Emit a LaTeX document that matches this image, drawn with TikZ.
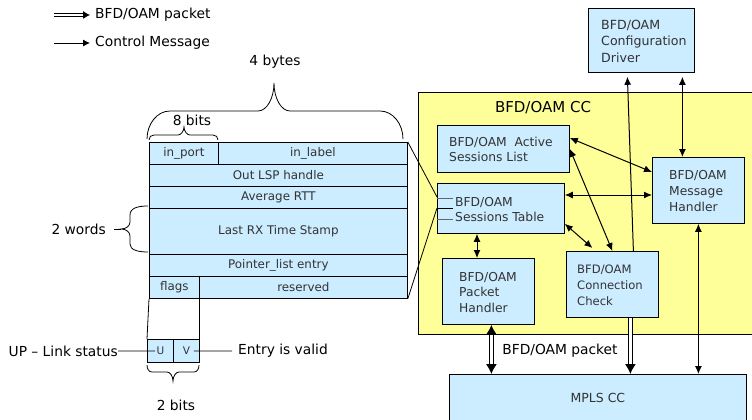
\documentclass[tikz,border=0pt]{standalone}
\usepackage{fontspec}
\setmainfont{DejaVu Sans}
\usetikzlibrary{arrows.meta,calc}
\definecolor{boxblue}{HTML}{CCECFF}
\definecolor{ccyellow}{HTML}{FFFF99}
\begin{document}
\begin{tikzpicture}[x=1pt,y=-1pt,
  lbl/.style={font=\fontsize{13.8}{16}\selectfont, inner sep=0pt},
  cell/.style={draw=black, line width=0.8pt, fill=boxblue, anchor=north west, inner sep=0pt, font=\fontsize{11.9}{14}\selectfont, text=black!80},
  blk/.style={draw=black, line width=0.8pt, fill=boxblue, anchor=north west, inner sep=0pt},
  btxt/.style={anchor=west, inner sep=0pt, align=left, font=\fontsize{12.3}{16}\selectfont, text=black!80},
  brc/.style={line width=0.8pt},
  ctl1/.style={line width=1pt, -{Latex[length=8pt,width=7pt]}},
  ctl2/.style={line width=1pt, {Latex[length=8pt,width=7pt]}-{Latex[length=8pt,width=7pt]}},
  legdbl/.style={double=white, double distance=1.6pt, line width=0.9pt, -{Latex[length=7pt,width=8pt]}},
  dbl1/.style={double=white, double distance=3.2pt, line width=1.2pt, -{Latex[length=10pt,width=11pt]}},
  dbl2/.style={double=white, double distance=3.2pt, line width=1.2pt, {Latex[length=10pt,width=11pt]}-{Latex[length=10pt,width=11pt]}}
]
\useasboundingbox (0,0) rectangle (752,420);
\clip (0,0) rectangle (752,420);

% legend
\node[lbl, anchor=west] (lg1) at (95,15) {BFD/OAM packet};
\node[lbl, anchor=west] (lg2) at (95,43) {Control Message};
\coordinate (lgs1) at (54,15);
\coordinate (lgs2) at (54,43);
\draw[legdbl] (lgs1) -- ([xshift=-5pt]lg1.west);
\draw[ctl1, line width=0.9pt, -{Latex[length=7pt,width=7pt]}] (lgs2) -- ([xshift=-5pt]lg2.west);

% table
\node[cell, minimum width=69pt, minimum height=22pt] (inport) at (149,142) {in\_port};
\node[cell, minimum width=189pt, minimum height=22pt] (inlabel) at (218,142) {in\_label};
\node[cell, minimum width=258pt, minimum height=22pt] (outlsp) at (149,164) {Out LSP handle};
\node[cell, minimum width=258pt, minimum height=22pt] (avg) at (149,186) {Average RTT};
\node[cell, minimum width=258pt, minimum height=46pt] (lastrx) at (149,208) {Last RX Time Stamp};
\node[cell, minimum width=258pt, minimum height=22pt] (ptr) at (149,254) {Pointer\_list entry};
\node[cell, minimum width=50pt, minimum height=22pt] (flags) at (149,276) {flags};
\node[cell, minimum width=208pt, minimum height=22pt] (resv) at (199,276) {reserved};

% braces
\node[lbl] (fourbytes) at (275,62) {4 bytes};
\draw[brc] (147,139) .. controls (147,124) and (157,111) .. (170,111) -- (258,111)
  .. controls (267,111) and (274,98) .. (274,83)
  .. controls (274,98) and (281,111) .. (290,111) -- (380,111)
  .. controls (393,111) and (403,124) .. (403,139);
\node[lbl] (eightbits) at (192,120) {8 bits};
\draw[brc] (149,140) .. controls (149,137) and (151,135) .. (154,135) -- (178,135)
  .. controls (181,135) and (184,131) .. (184,127)
  .. controls (184,131) and (187,135) .. (190,135) -- (213,135)
  .. controls (216,135) and (218,137) .. (218,140);
\node[lbl, anchor=east] (twowords) at (106,229) {2 words};
\coordinate (twtip) at (121,229);
\draw[brc] (twowords.east) ++(8pt,0) -- (twtip);
\draw[brc] (148,206) .. controls (138,206) and (130,208) .. (130,215) -- (130,222)
  .. controls (130,226) and (126,229) .. (twtip)
  .. controls (126,229) and (130,232) .. (130,236) -- (130,244)
  .. controls (130,250) and (138,252) .. (148,252);

% flag bits
\node[cell, minimum width=26pt, minimum height=23pt, font=\fontsize{10.5}{12}\selectfont] (ubit) at (147,339) {U};
\node[cell, minimum width=26pt, minimum height=23pt, font=\fontsize{10.5}{12}\selectfont] (vbit) at (173,339) {V};
\draw[line width=0.8pt] (flags.south west) -- (ubit.north west);
\draw[line width=0.8pt] (flags.south east) -- (vbit.north east);
\draw[brc] (147,365) .. controls (147,369) and (149,372) .. (152,372) -- (167,372)
  .. controls (170,372) and (173,376) .. (173,381)
  .. controls (173,376) and (176,372) .. (179,372) -- (194,372)
  .. controls (197,372) and (199,369) .. (199,365);
\node[lbl] (twobits) at (176,405) {2 bits};
\node[lbl, anchor=east] (upl) at (118,351) {UP – Link status};
\node[lbl, anchor=west] (ev) at (238,351) {Entry is valid};
\draw[line width=0.8pt] (upl.east) -- ([xshift=8pt]ubit.west);
\draw[line width=0.8pt] ([xshift=-6pt]vbit.east) -- ([xshift=-6pt]ev.west);

% right part
\node[draw=black, line width=0.8pt, fill=ccyellow, anchor=north west, minimum width=342pt, minimum height=242pt, inner sep=0pt] (ccbox) at (418,92) {};
\node[lbl, font=\fontsize{15}{17}\selectfont] (cctitle) at (543,108) {BFD/OAM CC};

\node[blk, minimum width=106pt, minimum height=64pt] (cfg) at (588,8) {};
\node[btxt, font=\fontsize{12.6}{16.5}\selectfont] (cfgt) at ([xshift=13pt,yshift=-1pt]cfg.west) {BFD/OAM\\Configuration\\Driver};
\node[blk, minimum width=132pt, minimum height=47pt] (asl) at (437,125) {};
\node[btxt, font=\fontsize{12.3}{15}\selectfont] (aslt) at ([xshift=12pt,yshift=-1pt]asl.west) {BFD/OAM\ \ Active\\Sessions List};
\node[blk, minimum width=92pt, minimum height=66pt] (mh) at (652,157) {};
\node[btxt] (mht) at ([xshift=17pt,yshift=-1pt]mh.west) {BFD/OAM\\Message\\Handler};
\node[blk, minimum width=127pt, minimum height=50pt] (st) at (437,183) {};
\node[btxt, font=\fontsize{12.3}{15}\selectfont] (stt) at ([xshift=18pt,yshift=-1pt]st.west) {BFD/OAM\\Sessions Table};
\node[blk, minimum width=92pt, minimum height=66pt] (ph) at (442,258) {};
\node[btxt, font=\fontsize{12.3}{15.5}\selectfont] (pht) at ([xshift=17pt,yshift=-1pt]ph.west) {BFD/OAM\\Packet\\Handler};
\node[blk, minimum width=92pt, minimum height=66pt] (ccn) at (566,251) {};
\node[btxt, font=\fontsize{11.6}{16}\selectfont] (ccnt) at ([xshift=11pt,yshift=-1pt]ccn.west) {BFD/OAM\\Connection\\Check};
\node[blk, minimum width=297pt, minimum height=48pt, font=\fontsize{12.5}{14}\selectfont, text=black!80] (mpls) at (449,374) {MPLS CC};

% table to sessions table
\draw[line width=0.8pt] (inlabel.north east) -- ([yshift=-14pt]st.north west);
\draw[line width=0.8pt] (resv.south east) -- ([yshift=-25pt]st.north west);
\draw[line width=0.8pt, black!60] ([yshift=-15pt]st.north west) -- ++(16,0);
\draw[line width=0.8pt] ([yshift=-25pt]st.north west) -- ++(16,0);
\draw[line width=0.8pt, black!60] ([yshift=-36pt]st.north west) -- ++(16,0);

% connectors
\draw[ctl1] ([xshift=21pt]ccn.north) -- ([xshift=-14pt,yshift=-4pt]cfg.south);
\coordinate (c2a) at ([xshift=41pt,yshift=-4pt]cfg.south);
\draw[ctl2] (c2a) -- (c2a |- mh.north);
\draw[ctl2] ([yshift=-13pt]asl.north east) -- ([yshift=-15pt]mh.north west);
\coordinate (c4a) at ([yshift=-12pt]st.north east);
\draw[ctl2] (c4a) -- (c4a -| mh.west);
\draw[ctl2] (asl.east) -- (ccn.north);
\draw[ctl2] ([yshift=10pt]st.south east) -- ([xshift=-20pt,yshift=3pt]ccn.north);
\coordinate (c7a) at ([xshift=35pt]ph.north west);
\draw[ctl2] (c7a |- st.south) -- (c7a);
\coordinate (c8a) at ([xshift=3pt]ph.south);
\draw[dbl2] (c8a) -- (c8a |- mpls.north);
\coordinate (c9a) at ([xshift=18pt]ccn.south);
\draw[dbl1] (c9a) -- (c9a |- mpls.north);
\draw[ctl2] (mh.south) -- (mh.south |- mpls.north);
\node[lbl] (pktlbl) at (560,351) {BFD/OAM packet};
\end{tikzpicture}
\end{document}
